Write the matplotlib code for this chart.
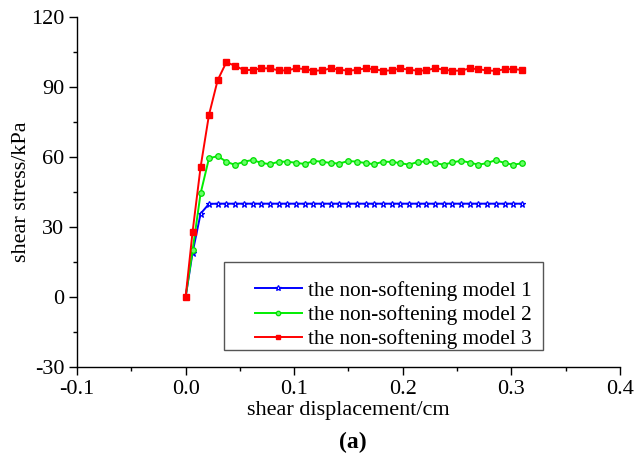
import matplotlib
matplotlib.use("Agg")
import matplotlib.pyplot as plt
from matplotlib.patches import Rectangle

plt.rcParams['font.family'] = ['Liberation Serif', 'DejaVu Serif']
plt.rcParams['axes.unicode_minus'] = False

# displacement (cm)
disp = [0.0, 0.0064, 0.0138, 0.0215, 0.0295, 0.0375, 0.0455, 0.0535, 0.0617, 0.0697,
        0.0777, 0.0857, 0.0937, 0.1017, 0.1097, 0.1177, 0.1257, 0.1337, 0.1417, 0.1497,
        0.1577, 0.1657, 0.1737, 0.1817, 0.1897, 0.1977, 0.2057, 0.2137, 0.2217, 0.2297,
        0.2377, 0.2457, 0.2537, 0.2617, 0.2697, 0.2777, 0.2857, 0.2937, 0.3017, 0.3097]

# shear stress (kPa)
model1 = [0, 19.0, 35.7, 39.9, 40, 40, 40, 40, 40, 40,
          40, 40, 40, 40, 40, 40, 40, 40, 40, 40,
          40, 40, 40, 40, 40, 40, 40, 40, 40, 40,
          40, 40, 40, 40, 40, 40, 40, 40, 40, 40]
model2 = [0, 20.0, 44.4, 59.4, 60.4, 58.0, 56.6, 58.0, 58.7, 57.5,
          56.9, 58.0, 58.0, 57.5, 57.0, 58.3, 58.0, 57.4, 57.2, 58.3,
          58.0, 57.4, 56.9, 58.0, 57.9, 57.4, 56.7, 57.9, 58.1, 57.4,
          56.7, 57.7, 58.4, 57.6, 56.7, 57.4, 58.7, 57.4, 56.7, 57.3]
model3 = [0, 27.9, 55.7, 78.0, 92.9, 100.6, 99.1, 97.3, 97.3, 98.0,
          98.0, 97.1, 97.1, 98.0, 97.7, 97.0, 97.1, 98.0, 97.4, 97.0,
          97.3, 98.0, 97.6, 97.0, 97.1, 98.0, 97.4, 97.0, 97.1, 98.1,
          97.4, 97.0, 97.0, 98.0, 97.6, 97.1, 96.9, 97.6, 97.7, 97.3]

labels = ["the non-softening model 1", "the non-softening model 2", "the non-softening model 3"]

fig = plt.figure(figsize=(6.35, 4.67), dpi=100)
ax = fig.add_axes([0.1213, 0.2141, 0.855, 0.7495])

ax.plot(disp, model1, color="#0000ff", lw=1.4, marker="*", ms=5, mfc="white", mec="#0000ff", mew=0.9, label=labels[0])
ax.plot(disp, model2, color="#00ee00", lw=1.4, marker="o", ms=4, mfc="#66ff66", mec="#00dd00", mew=0.9, label=labels[1])
ax.plot(disp, model3, color="#ff0000", lw=1.4, marker="s", ms=4, mfc="#ff0000", mec="#ff0000", label=labels[2])

ax.set_xlim(-0.1, 0.4)
ax.set_ylim(-30, 120)
ax.set_xticks([-0.1, 0.0, 0.1, 0.2, 0.3, 0.4])
ax.set_xticklabels(["-0.1", "0.0", "0.1", "0.2", "0.3", "0.4"])
ax.set_yticks([-30, 0, 30, 60, 90, 120])
ax.set_xticks([-0.05, 0.05, 0.15, 0.25, 0.35], minor=True)
ax.set_yticks([-15, 15, 45, 75, 105], minor=True)

ax.spines["top"].set_visible(False)
ax.spines["right"].set_visible(False)
for s in ["left", "bottom"]:
    ax.spines[s].set_linewidth(1.0)
ax.tick_params(which="major", direction="out", length=6, width=1.0, labelsize=16, pad=3)
ax.tick_params(which="minor", direction="out", length=3, width=1.0)

ax.set_xlabel("shear displacement/cm", fontsize=16, labelpad=2)
ax.set_ylabel("shear stress/kPa", fontsize=16, labelpad=0)

# legend box (drawn separately: the original has extra padding on left and top)
ax.add_patch(Rectangle((0.2707, 0.0486), 0.5875, 0.2514, transform=ax.transAxes,
                       fill=False, edgecolor="#555555", lw=1.0, zorder=5))
leg = ax.legend(loc="upper left", bbox_to_anchor=(0.3278, 0.246), fontsize=15.3, frameon=False,
                handlelength=2.2, borderpad=0, borderaxespad=0, numpoints=1,
                labelspacing=0.2, handletextpad=0.28, markerscale=0.8)

fig.text(0.556, 0.053, "(a)", fontsize=17, fontweight="bold", ha="center", va="center")

fig.savefig("out.png", dpi=100)
